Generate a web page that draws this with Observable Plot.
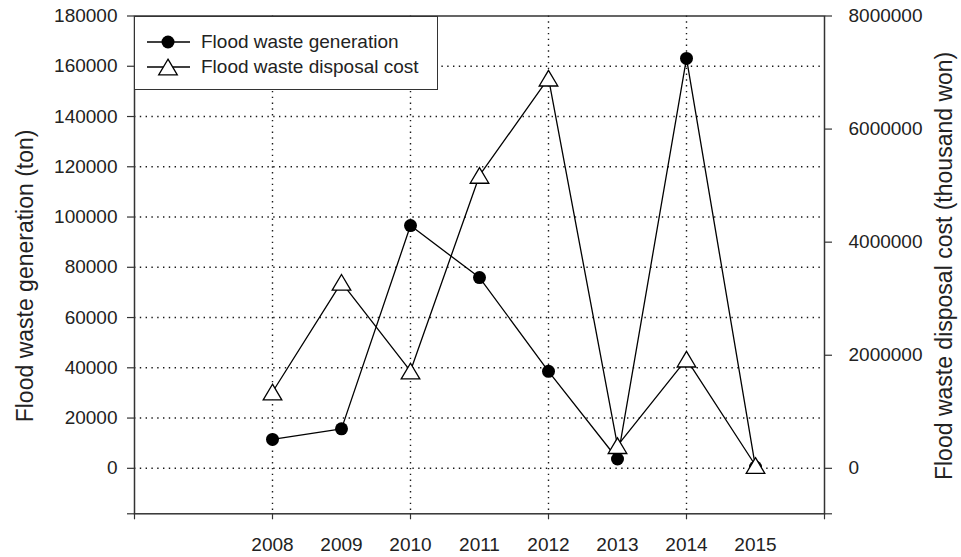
<!DOCTYPE html>
<html>
<head>
<meta charset="utf-8">
<script src="https://cdn.jsdelivr.net/npm/d3@7"></script>
<script src="https://cdn.jsdelivr.net/npm/@observablehq/plot@0.6"></script>
<style>
  html, body { margin: 0; padding: 0; background: white; }
  #wrap { position: relative; width: 961px; height: 557px; font-family: "Liberation Sans", Arial, sans-serif; }
  #legend { position: absolute; left: 134px; top: 15.5px; width: 302px; height: 72px; border: 1.5px solid #333; background: white; }
  .row { position: absolute; left: 0; height: 24px; display: flex; align-items: center; }
  .row svg { margin-left: 10px; }
  .row span { margin-left: 10px; font-size: 19px; color: #222; white-space: nowrap; }
</style>
</head>
<body>
<div id="wrap">
  <div id="chart"></div>
  <div id="legend">
    <div class="row" style="top:13px"><svg width="46" height="20"><line x1="2" x2="45" y1="10" y2="10" stroke="black" stroke-width="1.3"/><circle cx="23" cy="10" r="6.5" fill="black"/></svg><span>Flood waste generation</span></div>
    <div class="row" style="top:38px"><svg width="46" height="20"><line x1="2" x2="45" y1="10" y2="10" stroke="black" stroke-width="1.3"/><path d="M23,2.2L32.3,17.8L13.7,17.8Z" fill="white" stroke="black" stroke-width="1.3"/></svg><span>Flood waste disposal cost</span></div>
  </div>
</div>
<script>
const years = [2008, 2009, 2010, 2011, 2012, 2013, 2014, 2015];
const generation = [11500, 15700, 96600, 75900, 38600, 3700, 163100, 500];
const cost = [1350000, 3290000, 1720000, 5180000, 6900000, 400000, 1930000, 50000];
const leftTicks = [0, 20000, 40000, 60000, 80000, 100000, 120000, 140000, 160000, 180000];
const rightTicks = [0, 2000000, 4000000, 6000000, 8000000];
const xTicks = [2006, 2008, 2010, 2012, 2014, 2016];
const xGrid = [2008, 2010, 2012, 2014];
const yGrid = [0, 20000, 40000, 60000, 80000, 100000, 120000, 140000, 160000];

const yMin = -18100, yMax = 180000;
const k = yMax / 8000000; // right-axis units to left-axis units

const genData = years.map((year, i) => ({year, value: generation[i]}));
const costData = years.map((year, i) => ({year, value: cost[i] * k}));

const triangleBox = {
  draw(context, size) {
    const w = Math.sqrt(size) * 1.5;
    const h = w * 0.84;
    context.moveTo(0, -h / 2);
    context.lineTo(w / 2, h / 2);
    context.lineTo(-w / 2, h / 2);
    context.closePath();
  }
};

const dotted = {stroke: "#000", strokeOpacity: 0.9, strokeWidth: 1.4, strokeDasharray: "1.4,4.4"};

const chart = Plot.plot({
  width: 961,
  height: 557,
  marginLeft: 134,
  marginRight: 137,
  marginTop: 15.5,
  marginBottom: 43.7,
  x: {domain: [2006, 2016]},
  y: {domain: [yMin, yMax]},
  style: {fontFamily: "'Liberation Sans', Arial, sans-serif", fontSize: "19px", color: "#222", background: "white"},
  marks: [
    Plot.gridY(yGrid, dotted),
    Plot.gridX(xGrid, dotted),
    Plot.line(genData, {x: "year", y: "value", stroke: "black", strokeWidth: 1.3}),
    Plot.dot(genData, {x: "year", y: "value", r: 6.5, fill: "black", symbol: "circle"}),
    Plot.line(costData, {x: "year", y: "value", stroke: "black", strokeWidth: 1.3}),
    Plot.dot(costData, {x: "year", y: "value", r: 7, symbol: triangleBox, fill: "white", stroke: "black", strokeWidth: 1.3}),
    Plot.frame({stroke: "#333", strokeWidth: 1.5}),
    Plot.axisY(leftTicks, {anchor: "left", tickSize: 7, tickPadding: 10, tickFormat: d => String(d), label: null, stroke: "#333", strokeWidth: 1.2}),
    Plot.axisY([yMin], {anchor: "left", tickSize: 7, tickFormat: () => "", label: null, stroke: "#333", strokeWidth: 1.2}),
    Plot.axisY(rightTicks.map(v => v * k), {anchor: "right", tickSize: 7, tickPadding: 17, tickFormat: d => String(Math.round(d / k)), label: null, stroke: "#333", strokeWidth: 1.2}),
    Plot.axisY([yMin], {anchor: "right", tickSize: 7, tickFormat: () => "", label: null, stroke: "#333", strokeWidth: 1.2}),
    Plot.axisX(xTicks, {anchor: "bottom", tickSize: 6, tickFormat: () => "", label: null, stroke: "#333", strokeWidth: 1.2}),
    Plot.axisX(years, {anchor: "bottom", tickSize: 0, tickPadding: 24, tickFormat: d => String(d), label: null}),
    Plot.text(["Flood waste generation (ton)"], {frameAnchor: "left", textAnchor: "middle", dx: -102, dy: 11, rotate: -90, lineAnchor: "bottom", fontSize: 23, fill: "#222"}),
    Plot.text(["Flood waste disposal cost (thousand won)"], {frameAnchor: "right", textAnchor: "middle", dx: 127, dy: 1, rotate: -90, lineAnchor: "bottom", fontSize: 23, fill: "#222"})
  ]
});
document.getElementById("chart").appendChild(chart);
</script>
</body>
</html>
